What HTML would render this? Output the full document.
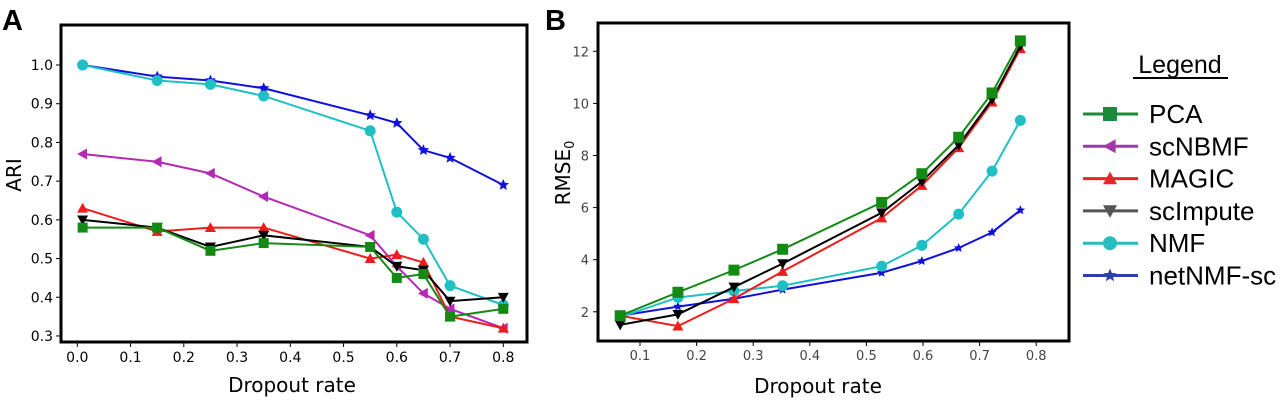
<!DOCTYPE html>
<html><head><meta charset="utf-8"><style>
body{margin:0;background:#fff;width:1280px;height:400px;overflow:hidden;font-family:"DejaVu Sans","Liberation Sans",sans-serif}
</style></head><body>
<svg id="svg" width="1280" height="400" xmlns="http://www.w3.org/2000/svg"></svg>
<script>
const xA=[0.01,0.15,0.25,0.35,0.55,0.6,0.65,0.7,0.8];
const aNet=[1.0,.97,.96,.94,.87,.85,.78,.76,.69];
const aNMF=[1.0,.96,.95,.92,.83,.62,.55,.43,.38];
const aNB=[.77,.75,.72,.66,.56,.48,.41,.37,.32];
const aMAG=[.63,.57,.58,.58,.50,.51,.49,.35,.32];
const aSCI=[.60,.58,.53,.56,.53,.48,.47,.39,.40];
const aPCA=[.58,.58,.52,.54,.53,.45,.46,.35,.37];
const xB=[0.065,0.167,0.266,0.352,0.527,0.598,0.663,0.722,0.772];
const bPCA=[1.85,2.75,3.6,4.4,6.2,7.3,8.7,10.4,12.4];
const bMAG=[1.85,1.45,2.5,3.55,5.6,6.85,8.3,10.05,12.1];
const bSCI=[1.5,1.9,2.95,3.85,5.8,7.0,8.4,10.15,12.2];
const bNMF=[1.8,2.55,2.8,3.0,3.75,4.55,5.75,7.4,9.35];
const bNet=[1.85,2.2,2.5,2.85,3.5,3.95,4.45,5.05,5.9];
const aXTicks=[0,0.1,0.2,0.3,0.4,0.5,0.6,0.7,0.8];
const aYTicks=[0.3,0.4,0.5,0.6,0.7,0.8,0.9,1.0];
const bXTicks=[0.1,0.2,0.3,0.4,0.5,0.6,0.7,0.8];
const bYTicks=[2,4,6,8,10,12];
const legendNames=["PCA","scNBMF","MAGIC","scImpute","NMF","netNMF-sc"];

const svg=document.getElementById('svg');const NS="http://www.w3.org/2000/svg";
function el(t,a,p){const e=document.createElementNS(NS,t);for(const k in a)e.setAttribute(k,a[k]);(p||svg).appendChild(e);return e;}
const ax=v=>77.3+v*532.5, ay=v=>65+(1.0-v)*387.1;
const bx=v=>640+(v-0.1)*566, by=v=>51.3+(12-v)*26.05;
const C={PCA:'#138a13',NB:'#b428b4',MAG:'#ee1c1c',SCI:'#000',NMF:'#1fbfc4',NET:'#1010e0'};
function marker(g,type,x,y,c,s){
  let e;
  if(type==='sq')e=el('rect',{x:x-s,y:y-s,width:2*s,height:2*s,fill:c},g);
  else if(type==='ci')e=el('circle',{cx:x,cy:y,r:s,fill:c},g);
  else if(type==='up')e=el('polygon',{points:`${x},${y-s} ${x-s},${y+s*0.8} ${x+s},${y+s*0.8}`,fill:c},g);
  else if(type==='dn')e=el('polygon',{points:`${x},${y+s} ${x-s},${y-s*0.8} ${x+s},${y-s*0.8}`,fill:c},g);
  else if(type==='lt')e=el('polygon',{points:`${x-s},${y} ${x+s*0.8},${y-s} ${x+s*0.8},${y+s}`,fill:c},g);
  else if(type==='st'){let p=[];for(let i=0;i<10;i++){const r=i%2?s*0.45:s;const a=-Math.PI/2+i*Math.PI/5;p.push((x+r*Math.cos(a)).toFixed(1)+','+(y+r*Math.sin(a)).toFixed(1));}e=el('polygon',{points:p.join(' '),fill:c},g);}
  
  
}
function series(name,xs,ys,fx,fy,c,type,s,w){
  const g=el('g',{});
  
  
  el('polyline',{points:xs.map((x,i)=>fx(x)+','+fy(ys[i])).join(' '),fill:'none',stroke:c,'stroke-width':w},g);
  xs.forEach((x,i)=>marker(g,type,fx(x),fy(ys[i]),c,s));
}
function txt(x,y,t,attrs,name){const e=el('text',Object.assign({x:x,y:y},attrs));e.textContent=t;return e;}

// Panel A
txt(2,30,'A',{'font-size':29,'font-weight':'bold','font-family':'Liberation Sans, sans-serif'},'panel-a-label');
aXTicks.forEach(v=>{el('line',{x1:ax(v),x2:ax(v),y1:342,y2:347,stroke:'#000'});txt(ax(v),362,v.toFixed(1),{'font-size':14,'text-anchor':'middle'},'x-tick-label');});
aYTicks.forEach(v=>{el('line',{x1:56,x2:61,y1:ay(v),y2:ay(v),stroke:'#000'});txt(53,ay(v)+5,v.toFixed(1),{'font-size':14,'text-anchor':'end'},'y-tick-label');});
series('series-netnmf-sc',xA,aNet,ax,ay,C.NET,'st',6,2);
series('series-nmf',xA,aNMF,ax,ay,C.NMF,'ci',5.5,2);
series('series-scnbmf',xA,aNB,ax,ay,C.NB,'lt',5.5,2);
series('series-magic',xA,aMAG,ax,ay,C.MAG,'up',5.5,2);
series('series-scimpute',xA,aSCI,ax,ay,C.SCI,'dn',5.5,2);
series('series-pca',xA,aPCA,ax,ay,C.PCA,'sq',5,2);
el('rect',{x:61,y:25,width:466,height:317,fill:'none',stroke:'#000','stroke-width':3});
txt(292,392,'Dropout rate',{'font-size':20,'text-anchor':'middle'},'x-axis-title-a');
txt(21,175,'ARI',{'font-size':20,'text-anchor':'middle',transform:'rotate(-90 21 175)'},'y-axis-title-a');

// Panel B
txt(545,30,'B',{'font-size':29,'font-weight':'bold','font-family':'Liberation Sans, sans-serif'},'panel-b-label');
bXTicks.forEach(v=>{el('line',{x1:bx(v),x2:bx(v),y1:341,y2:346,stroke:'#000'});txt(bx(v),360,v.toFixed(1),{'font-size':13,'text-anchor':'middle',fill:'#444'},'x-tick-label');});
bYTicks.forEach(v=>{el('line',{x1:593,x2:598,y1:by(v),y2:by(v),stroke:'#000'});txt(589,by(v)+5,String(v),{'font-size':13,'text-anchor':'end',fill:'#444'},'y-tick-label');});
series('series-netnmf-sc-b',xB,bNet,bx,by,C.NET,'st',5,2);
series('series-nmf-b',xB,bNMF,bx,by,C.NMF,'ci',5.5,2);
series('series-magic-b',xB,bMAG,bx,by,C.MAG,'up',5.5,2);
series('series-scimpute-b',xB,bSCI,bx,by,C.SCI,'dn',5.5,2);
series('series-pca-b',xB,bPCA,bx,by,C.PCA,'sq',5.5,2);
el('rect',{x:598,y:23,width:471,height:318,fill:'none',stroke:'#000','stroke-width':3});
txt(818,393,'Dropout rate',{'font-size':20,'text-anchor':'middle'},'x-axis-title-b');
const yt=el('text',{x:570,y:173,'font-size':20,'text-anchor':'middle',transform:'rotate(-90 570 173)'});


yt.innerHTML='RMSE<tspan font-size="13" dy="4">0</tspan>';

// Legend
txt(1180,73,'Legend',{'font-size':25,'text-anchor':'middle','font-family':'Liberation Sans, sans-serif'},'legend-title');
el('line',{x1:1133,x2:1228,y1:78,y2:78,stroke:'#000','stroke-width':2});
const lc=['#1b8a3a','#a13aa8','#e8262a','#555','#27bcc0','#2b3fb0'];
const lt=['sq','lt','up','dn','ci','st'];
legendNames.forEach((n,i)=>{
  const y=114+i*32.3;
  const g=el('g',{});
  
  
  el('line',{x1:1083,x2:1138,y1:y,y2:y,stroke:lc[i],'stroke-width':3},g);
  marker(g,lt[i],1110,y,lc[i],7);
  const t=el('text',{x:1149,y:y+9,'font-size':26,'font-family':'Liberation Sans, sans-serif'},g);t.textContent=n;
});
</script>
</body></html>
